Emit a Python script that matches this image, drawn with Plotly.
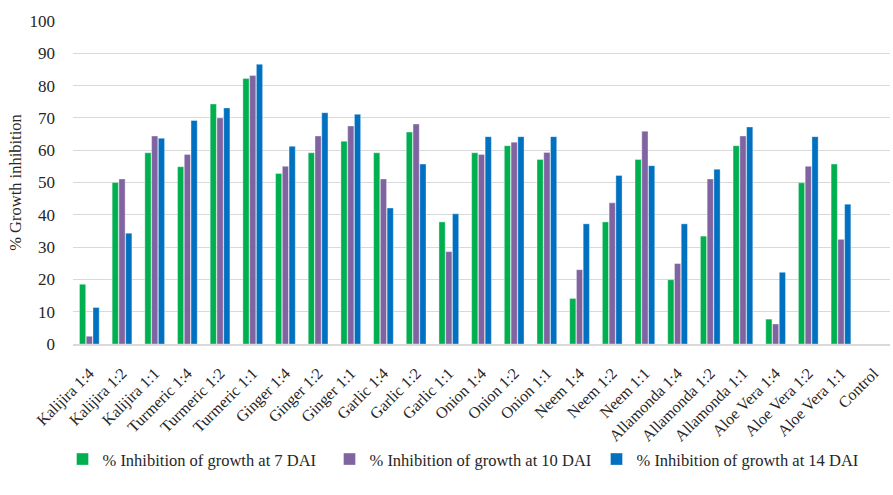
import plotly.graph_objects as go

categories = [
    "Kalijira 1:4", "Kalijira 1:2", "Kalijira 1:1",
    "Turmeric 1:4", "Turmeric 1:2", "Turmeric 1:1",
    "Ginger 1:4", "Ginger 1:2", "Ginger 1:1",
    "Garlic 1:4", "Garlic 1:2", "Garlic 1:1",
    "Onion 1:4", "Onion 1:2", "Onion 1:1",
    "Neem 1:4", "Neem 1:2", "Neem 1:1",
    "Allamonda 1:4", "Allamonda 1:2", "Allamonda 1:1",
    "Aloe Vera 1:4", "Aloe Vera 1:2", "Aloe Vera 1:1",
    "Control",
]

dai7 = [18.5, 50.0, 59.2, 54.9, 74.3, 82.2, 52.8, 59.2, 62.8, 59.2, 65.6, 37.8,
        59.2, 61.4, 57.1, 14.1, 37.8, 57.1, 19.9, 33.4, 61.4, 7.7, 49.9, 55.7, 0]
dai10 = [2.4, 51.1, 64.4, 58.7, 70.0, 83.1, 55.0, 64.4, 67.5, 51.1, 68.1, 28.6,
         58.7, 62.5, 59.3, 23.0, 43.7, 65.9, 24.9, 51.1, 64.4, 6.2, 55.0, 32.4, 0]
dai14 = [11.3, 34.3, 63.7, 69.2, 73.1, 86.6, 61.2, 71.6, 71.1, 42.1, 55.7, 40.3,
         64.2, 64.2, 64.2, 37.2, 52.2, 55.2, 37.2, 54.1, 67.2, 22.2, 64.2, 43.3, 0]

series_names = [
    "% Inhibition of growth at 7 DAI",
    "% Inhibition of growth at 10 DAI",
    "% Inhibition of growth at 14 DAI",
]
colors = ["#00B050", "#8064A2", "#0070C0"]

y_ticks = list(range(0, 101, 10))

FONT = "Times New Roman"
TXT = "#262626"

fig = go.Figure()
for name, vals, col in zip(series_names, [dai7, dai10, dai14], colors):
    fig.add_trace(go.Bar(
        x=categories, y=vals, name=name,
        marker=dict(color=col, line=dict(color="rgba(255,255,255,0.6)", width=0.6)),
    ))

fig.update_layout(
    width=893, height=495,
    margin=dict(l=73, r=3, t=21, b=151),
    paper_bgcolor="white", plot_bgcolor="white",
    barmode="group", bargap=0.38, bargroupgap=0.08,
    font=dict(family=FONT, size=17, color=TXT),
    showlegend=True,
    legend=dict(
        orientation="h", xref="container", x=0.07, xanchor="left",
        yref="container", y=0.072, yanchor="middle",
        font=dict(family=FONT, size=16.5, color=TXT),
        entrywidth=222, entrywidthmode="pixels",
        itemwidth=30, tracegroupgap=0,
    ),
)

fig.update_xaxes(
    tickangle=-45, tickfont=dict(family=FONT, size=16, color=TXT),
    ticklabelstandoff=12, automargin=False,
    showline=True, linecolor="#D9D9D9", linewidth=1.5,
    showgrid=False, ticks="",
)
fig.update_yaxes(
    range=[0, 100], tickvals=y_ticks,
    tickfont=dict(family=FONT, size=17, color=TXT),
    ticklabelstandoff=17, automargin=False,
    showgrid=True, gridcolor="#D9D9D9", gridwidth=1,
    zeroline=False, showline=False, ticks="",
    title=dict(text="% Growth inhibition", font=dict(family=FONT, size=16.5, color=TXT), standoff=3),
)

fig.write_html("out.html")
